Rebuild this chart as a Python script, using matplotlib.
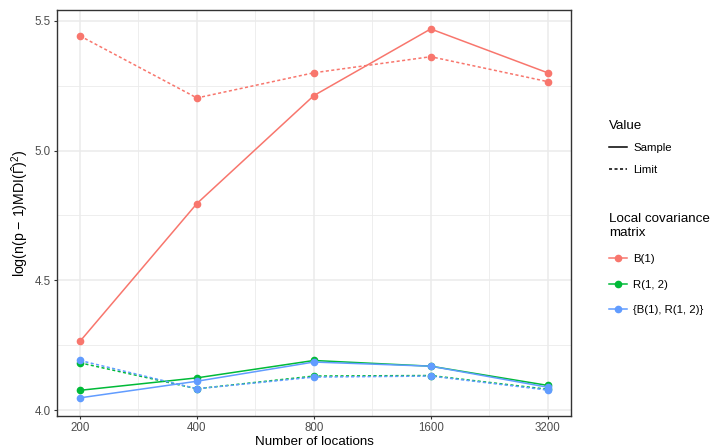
import numpy as np
import matplotlib
matplotlib.use('Agg')
import matplotlib.pyplot as plt
from matplotlib.lines import Line2D
from matplotlib.ticker import FixedLocator, NullFormatter

plt.rcParams['font.family'] = ['Liberation Sans', 'DejaVu Sans']
plt.rcParams['mathtext.fontset'] = 'custom'
plt.rcParams['mathtext.rm'] = 'Liberation Sans'
plt.rcParams['mathtext.it'] = 'Liberation Sans:italic'

locations = [200, 400, 800, 1600, 3200]
series_names = ['B(1)', 'R(1, 2)', '{B(1), R(1, 2)}']
colors = ['#F8766D', '#00BA38', '#619CFF']

# sample values
b1_sample = [4.265, 4.796, 5.212, 5.469, 5.300]
r12_sample = [4.076, 4.124, 4.191, 4.169, 4.095]
both_sample = [4.047, 4.111, 4.185, 4.169, 4.088]
# limit values
b1_limit = [5.442, 5.203, 5.300, 5.362, 5.266]
r12_limit = [4.182, 4.082, 4.131, 4.133, 4.080]
both_limit = [4.191, 4.082, 4.127, 4.131, 4.077]

samples = [b1_sample, r12_sample, both_sample]
limits = [b1_limit, r12_limit, both_limit]

TICK = 8.3
TXT = 8.2
TTL = 9.6

fig = plt.figure(figsize=(7.14, 4.47), dpi=100)
ax = fig.add_axes([57/714, 1-416/447, (571-57)/714, (416-10)/447])

dot = (0, (2, 1.6))
for name, col, s, l in zip(series_names, colors, samples, limits):
    ax.plot(locations, s, color=col, lw=1.1, marker='o', ms=4.5, zorder=3)
    ax.plot(locations, l, color=col, lw=1.1, ls=dot, marker='o', ms=4.5, zorder=3)

ax.set_xscale('log', base=2)
ax.set_xlim(200 / 2**0.197, 3200 * 2**0.2)
ax.set_ylim(3.977, 5.542)
ax.xaxis.set_major_locator(FixedLocator(locations))
ax.set_xticklabels([str(v) for v in locations])
ax.xaxis.set_minor_locator(FixedLocator([200 * 2**(i + 0.5) for i in range(4)]))
ax.xaxis.set_minor_formatter(NullFormatter())
ax.set_yticks([4.0, 4.5, 5.0, 5.5])
ax.set_yticklabels(['4.0', '4.5', '5.0', '5.5'])
ax.yaxis.set_minor_locator(FixedLocator([4.25, 4.75, 5.25]))

ax.grid(which='major', color='#EBEBEB', lw=1.1, zorder=0)
ax.grid(which='minor', color='#EBEBEB', lw=0.6, zorder=0)
ax.set_axisbelow(True)
for sp in ax.spines.values():
    sp.set_color('#333333')
    sp.set_linewidth(1.0)
ax.tick_params(which='major', length=2.5, color='#333333', labelcolor='#4D4D4D',
               labelsize=TICK, width=0.8, pad=2)
ax.tick_params(which='minor', length=0)

ax.set_xlabel('Number of locations', fontsize=TTL, labelpad=1.5)
ax.set_ylabel(r'log(n(p $-$ 1)MDI($\hat{\Gamma}$)$^2$)', fontsize=TTL + 0.6, labelpad=3)

h1 = [Line2D([], [], color='black', lw=1.1), Line2D([], [], color='black', lw=1.1, ls=dot)]
leg1 = fig.legend(h1, ['Sample', 'Limit'], title='Value', loc='upper left',
                  bbox_to_anchor=(609/714, 1-120/447), frameon=False, fontsize=TXT,
                  title_fontsize=TTL, handlelength=1.55, handletextpad=0.6,
                  labelspacing=1.0, borderpad=0, borderaxespad=0)
leg1._legend_box.align = 'left'

h2 = [Line2D([], [], color=c, lw=1.1, marker='o', ms=4.5) for c in colors]
leg2 = fig.legend(h2, series_names, title='Local covariance\nmatrix', loc='upper left',
                  bbox_to_anchor=(609/714, 1-213/447), frameon=False, fontsize=TXT,
                  title_fontsize=TTL, handlelength=1.55, handletextpad=0.6,
                  labelspacing=1.35, borderpad=0, borderaxespad=0)
leg2._legend_box.align = 'left'

fig.savefig('out.png', dpi=100)
